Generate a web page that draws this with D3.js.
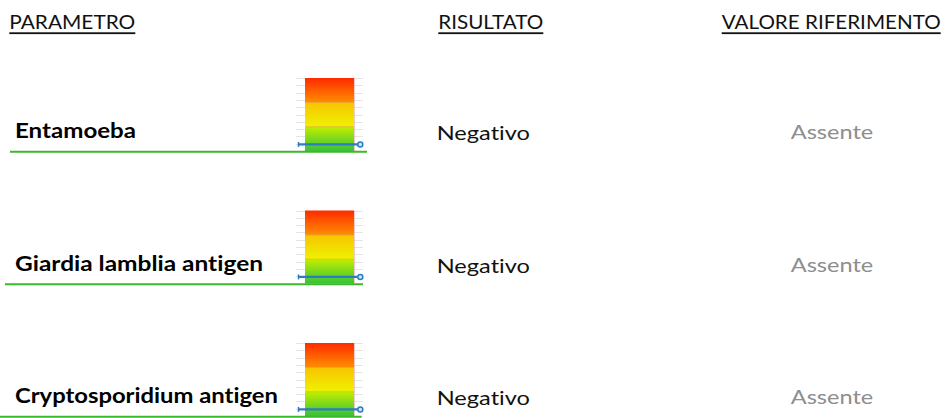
<!DOCTYPE html>
<html>
<head>
<meta charset="utf-8">
<script src="https://cdn.jsdelivr.net/npm/d3@7/dist/d3.min.js"></script>
<style>
  html, body { margin: 0; padding: 0; background: #fff; }
  svg { display: block; }
  text { font-family: Lato, "Open Sans", sans-serif; font-variant-ligatures: none; font-feature-settings: "liga" 0; }
</style>
</head>
<body>
<svg id="chart" width="949" height="418"></svg>
<script>
// ---- data ----
const headers = ["PARAMETRO", "RISULTATO", "VALORE RIFERIMENTO"];
const parameters = ["Entamoeba", "Giardia lamblia antigen", "Cryptosporidium antigen"];
const results = ["Negativo", "Negativo", "Negativo"];
const references = ["Assente", "Assente", "Assente"];
const values = [0.9, 0.9, 0.9];
const bandNames = ["basso", "medio", "alto"];
const bandStarts = [0, 3.33, 6.67];
const bandEnds = [3.33, 6.67, 10];
const gaugeTicks = [0, 1, 2, 3, 4, 5, 6, 7, 8, 9, 10];

// ---- layout ----
const svg = d3.select("#chart");
const defs = svg.append("defs");
const gradStops = [
  [["0%", "#c4ee00"], ["100%", "#36c238"]],
  [["0%", "#f8c400"], ["100%", "#eef200"]],
  [["0%", "#ff2a00"], ["100%", "#ff8e00"]]
];
gradStops.forEach((stops, i) => {
  const g = defs.append("linearGradient").attr("id", "band" + i)
    .attr("x1", 0).attr("y1", 0).attr("x2", 0).attr("y2", 1);
  stops.forEach(s => g.append("stop").attr("offset", s[0]).attr("stop-color", s[1]));
});

// header
const headerX = [9.3, 438.3, 721.7];
const headerW = [126, 105, 219];
headers.forEach((h, i) => {
  svg.append("text").attr("x", headerX[i]).attr("y", 29.3)
    .attr("font-size", 19.5).attr("fill", "#111")
    .attr("textLength", headerW[i]).attr("lengthAdjust", "spacingAndGlyphs")
    .text(h);
  svg.append("rect").attr("x", headerX[i]).attr("y", 32.3)
    .attr("width", headerW[i]).attr("height", 1.8).attr("fill", "#111");
});

const rowTops = [78, 210.5, 343];
const labelW = [121, 248, 263];
const lineX1 = [10, 5, 0];
const lineX2 = [367, 363, 361.5];
const barH = 73;
const xBand = d3.scaleBand().domain(["gauge"]).range([305, 354]).padding(0);

parameters.forEach((p, i) => {
  const top = rowTops[i];
  const y = d3.scaleLinear().domain([0, 10]).range([top + barH, top]);
  const g = svg.append("g");

  // gridlines
  g.selectAll("line.grid").data(gaugeTicks).join("line")
    .attr("x1", 296).attr("x2", 363)
    .attr("y1", d => Math.round(y(d)) + 0.5).attr("y2", d => Math.round(y(d)) + 0.5)
    .attr("stroke", "#e4e4e4").attr("stroke-width", 1);

  // bands
  g.selectAll("rect.band").data(bandNames).join("rect")
    .attr("x", xBand("gauge")).attr("width", xBand.bandwidth())
    .attr("y", (d, k) => y(bandEnds[k]))
    .attr("height", (d, k) => y(bandStarts[k]) - y(bandEnds[k]))
    .attr("fill", (d, k) => `url(#band${k})`);
  // band separators
  g.selectAll("line.sep").data(bandStarts.slice(1)).join("line")
    .attr("x1", xBand("gauge")).attr("x2", xBand("gauge") + xBand.bandwidth())
    .attr("y1", d => y(d)).attr("y2", d => y(d))
    .attr("stroke", "rgba(200,110,0,0.35)").attr("stroke-width", 1);
  g.append("line")
    .attr("x1", 354.5).attr("x2", 354.5).attr("y1", top).attr("y2", top + barH)
    .attr("stroke", "rgba(230,170,170,0.6)").attr("stroke-width", 1);

  // green baseline
  g.append("line")
    .attr("x1", lineX1[i]).attr("x2", lineX2[i])
    .attr("y1", top + barH + 0.8).attr("y2", top + barH + 0.8)
    .attr("stroke", "#3cb82c").attr("stroke-width", 2);

  // value marker
  const vy = y(values[i]);
  g.append("line").attr("x1", 298.3).attr("x2", 358).attr("y1", vy).attr("y2", vy)
    .attr("stroke", "#2a7cc4").attr("stroke-width", 2.2);
  g.append("line").attr("x1", 298.5).attr("x2", 298.5).attr("y1", vy - 2.5).attr("y2", vy + 2.5)
    .attr("stroke", "#2a7cc4").attr("stroke-width", 1.5);
  g.append("circle").attr("cx", 360.3).attr("cy", vy).attr("r", 2.5)
    .attr("fill", "#cfe6f7").attr("stroke", "#2a7cc4").attr("stroke-width", 1.5);

  // texts
  const base = top + 60.3;
  svg.append("text").attr("x", 15).attr("y", base)
    .attr("font-size", 21).attr("font-weight", "bold").attr("fill", "#000")
    .attr("textLength", labelW[i]).attr("lengthAdjust", "spacingAndGlyphs")
    .text(p);
  svg.append("text").attr("x", 436.7).attr("y", top + 62)
    .attr("font-size", 19).attr("fill", "#111")
    .attr("textLength", 93.3).attr("lengthAdjust", "spacingAndGlyphs")
    .text(results[i]);
  svg.append("text").attr("x", 790.7).attr("y", top + 61)
    .attr("font-size", 19).attr("fill", "#8e8e8e")
    .attr("textLength", 82.6).attr("lengthAdjust", "spacingAndGlyphs")
    .text(references[i]);
});
</script>
</body>
</html>
